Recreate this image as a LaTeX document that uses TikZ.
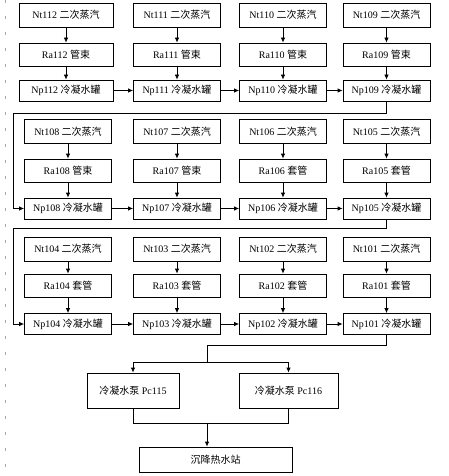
\documentclass[tikz,border=0pt]{standalone}
\usepackage{fontspec}
\setmainfont{Liberation Serif}
\newfontfamily\cjk{Noto Sans CJK SC}
\usetikzlibrary{arrows.meta}

\begin{document}
\begin{tikzpicture}[x=1pt,y=-1pt,line width=0.8pt,>={Latex[length=5pt,width=4.5pt]},
	box/.style={shape=rectangle,draw=black,minimum width=87pt,inner sep=0pt,font=\fontsize{10}{12}\selectfont},
	steam/.style={box,minimum height=24pt},
	tube/.style={box,minimum height=23pt},
	tank/.style={box,minimum height=21pt}]
	
	\useasboundingbox (0,0) rectangle (449,476);
	\coordinate (mtop) at (5,0);
	\coordinate (mbot) at (5,476);
	\draw[gray!70,line width=0.6pt,dash pattern=on 3pt off 13pt] (mtop) -- (mbot);
	
	% row 1
	\node[steam,minimum width=94pt] (nt112) at (66, 15)     {Nt112 {\cjk 二次蒸汽}};
	\node[steam] (nt111) at (177, 15)     {Nt111 {\cjk 二次蒸汽}};
	\node[steam] (nt110) at (283, 15)     {Nt110 {\cjk 二次蒸汽}};
	\node[steam] (nt109) at (386.5, 15)     {Nt109 {\cjk 二次蒸汽}};
	\node[tube,minimum width=94pt] (ra112) at (66, 54.5)     {Ra112 {\cjk 管束}};
	\node[tube] (ra111) at (177, 54.5)     {Ra111 {\cjk 管束}};
	\node[tube] (ra110) at (283, 54.5)     {Ra110 {\cjk 管束}};
	\node[tube] (ra109) at (386.5, 54.5)     {Ra109 {\cjk 管束}};
	\node[tank,minimum width=94pt] (np112) at (66, 90.5)     {Np112 {\cjk 冷凝水罐}};
	\node[tank] (np111) at (177, 90.5)     {Np111 {\cjk 冷凝水罐}};
	\node[tank] (np110) at (283, 90.5)     {Np110 {\cjk 冷凝水罐}};
	\node[tank] (np109) at (386.5, 90.5)     {Np109 {\cjk 冷凝水罐}};
	
	% row 2
	\node[steam] (nt108) at (68, 131.5)     {Nt108 {\cjk 二次蒸汽}};
	\node[steam] (nt107) at (177, 131.5)     {Nt107 {\cjk 二次蒸汽}};
	\node[steam] (nt106) at (283, 131.5)     {Nt106 {\cjk 二次蒸汽}};
	\node[steam] (nt105) at (386.5, 131.5)     {Nt105 {\cjk 二次蒸汽}};
	\node[tube] (ra108) at (68, 170.5)     {Ra108 {\cjk 管束}};
	\node[tube] (ra107) at (177, 170.5)     {Ra107 {\cjk 管束}};
	\node[tube] (ra106) at (283, 170.5)     {Ra106 {\cjk 套管}};
	\node[tube] (ra105) at (386.5, 170.5)     {Ra105 {\cjk 套管}};
	\node[tank] (np108) at (68, 208.5)     {Np108 {\cjk 冷凝水罐}};
	\node[tank] (np107) at (177, 208.5)     {Np107 {\cjk 冷凝水罐}};
	\node[tank] (np106) at (283, 208.5)     {Np106 {\cjk 冷凝水罐}};
	\node[tank] (np105) at (386.5, 208.5)     {Np105 {\cjk 冷凝水罐}};
	
	% row 3
	\node[steam] (nt104) at (68, 249)     {Nt104 {\cjk 二次蒸汽}};
	\node[steam] (nt103) at (177, 249)     {Nt103 {\cjk 二次蒸汽}};
	\node[steam] (nt102) at (283, 249)     {Nt102 {\cjk 二次蒸汽}};
	\node[steam] (nt101) at (386.5, 249)     {Nt101 {\cjk 二次蒸汽}};
	\node[tube] (ra104) at (68, 285.5)     {Ra104 {\cjk 套管}};
	\node[tube] (ra103) at (177, 285.5)     {Ra103 {\cjk 套管}};
	\node[tube] (ra102) at (283, 285.5)     {Ra102 {\cjk 套管}};
	\node[tube] (ra101) at (386.5, 285.5)     {Ra101 {\cjk 套管}};
	\node[tank] (np104) at (68, 324)     {Np104 {\cjk 冷凝水罐}};
	\node[tank] (np103) at (177, 324)     {Np103 {\cjk 冷凝水罐}};
	\node[tank] (np102) at (283, 324)     {Np102 {\cjk 冷凝水罐}};
	\node[tank] (np101) at (386.5, 324)     {Np101 {\cjk 冷凝水罐}};
	
	% pumps and station
	\node[box,minimum width=92pt,minimum height=35pt] (pc115) at (133, 390.5)     {{\cjk 冷凝水泵} Pc115};
	\node[box,minimum width=99pt,minimum height=35pt] (pc116) at (288.5, 390.5)     {{\cjk 冷凝水泵} Pc116};
	\node[box,minimum width=153pt,minimum height=25pt] (station) at (215.5, 459.5)     {\cjk 沉降热水站};
	
	\coordinate (backA) at (13, 113);
	\coordinate (backB) at (13, 228);
	\coordinate (outA) at (207, 345);
	\coordinate (split) at (207, 362);
	\coordinate (merge) at (207, 423);
	
	\path[->] (nt112) edge (ra112) (ra112) edge (np112);
	\path[->] (nt111) edge (ra111) (ra111) edge (np111);
	\path[->] (nt110) edge (ra110) (ra110) edge (np110);
	\path[->] (nt109) edge (ra109) (ra109) edge (np109);
	\path[->] (nt108) edge (ra108) (ra108) edge (np108);
	\path[->] (nt107) edge (ra107) (ra107) edge (np107);
	\path[->] (nt106) edge (ra106) (ra106) edge (np106);
	\path[->] (nt105) edge (ra105) (ra105) edge (np105);
	\path[->] (nt104) edge (ra104) (ra104) edge (np104);
	\path[->] (nt103) edge (ra103) (ra103) edge (np103);
	\path[->] (nt102) edge (ra102) (ra102) edge (np102);
	\path[->] (nt101) edge (ra101) (ra101) edge (np101);
	
	\path[->] (np112) edge (np111) (np111) edge (np110) (np110) edge (np109);
	\path[->] (np108) edge (np107) (np107) edge (np106) (np106) edge (np105);
	\path[->] (np104) edge (np103) (np103) edge (np102) (np102) edge (np101);
	
	\draw[->] (np109.south) |- (backA) |- (np108.west);
	\draw[->] (np105.south) |- (backB) |- (np104.west);
	
	\draw (np101.south) |- (outA) -- (split);
	\draw[->] (split) -| (pc115.north);
	\draw[->] (split) -| (pc116.north);
	\draw (pc115.south) |- (merge);
	\draw (pc116.south) |- (merge);
	\draw[->] (merge) -- (merge |- station.north);
\end{tikzpicture}
\end{document}
